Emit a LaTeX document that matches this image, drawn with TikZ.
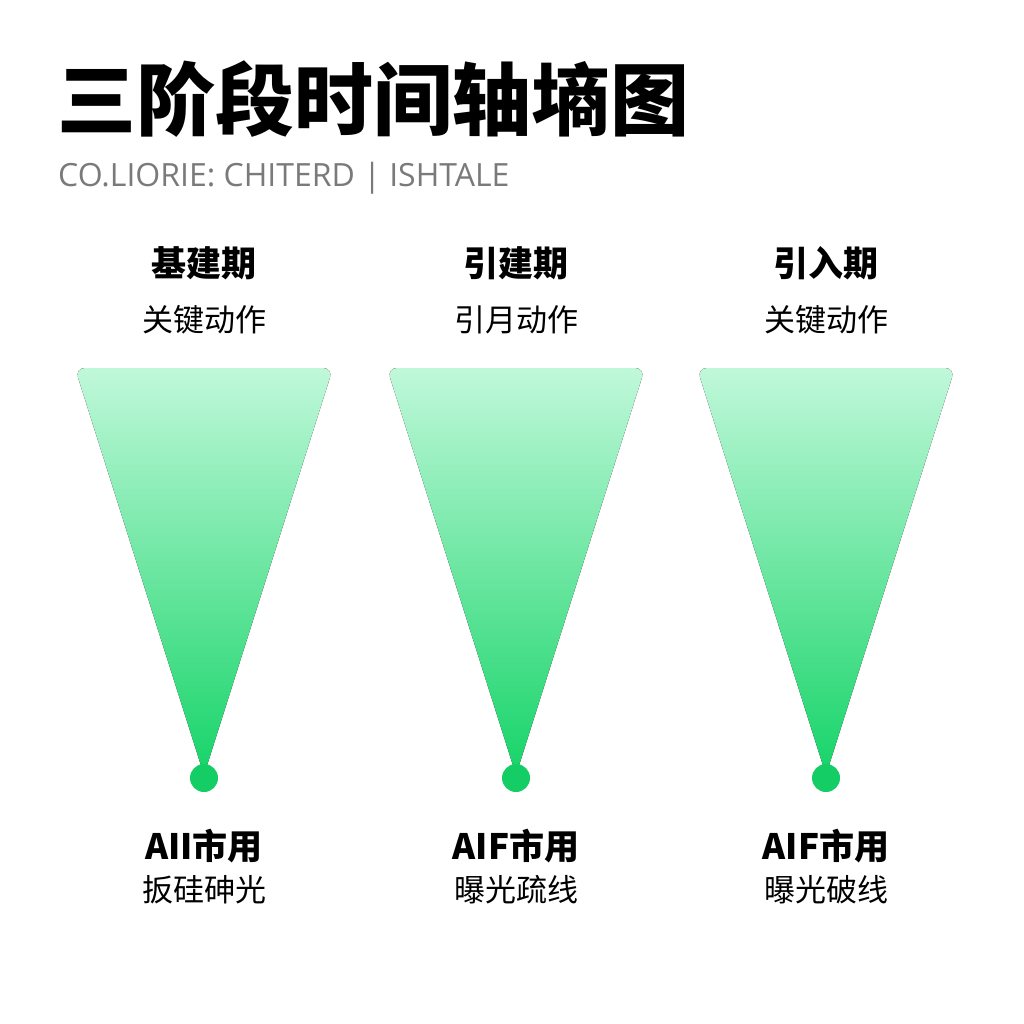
\documentclass[tikz,border=0pt]{standalone}
\usepackage{fontspec}
\newfontfamily\cjk{Noto Sans CJK SC}
\newfontfamily\subfont{Open Sans}
\definecolor{mint-top}{RGB}{192,248,218}
\definecolor{mint-bottom}{RGB}{22,212,104}
\definecolor{dot-green}{RGB}{20,205,100}
\definecolor{sub-gray}{RGB}{122,122,122}
\usetikzlibrary{positioning}

\begin{document}
\begin{tikzpicture}[x=1pt,y=-1pt,
    funnel/.style={top color=mint-top, bottom color=mint-bottom, draw=none, rounded corners=10pt},
    stagedot/.style={circle, fill=dot-green, minimum size=28pt, inner sep=0pt},
    stagehead/.style={font=\cjk\bfseries\fontsize{35}{35}\selectfont, anchor=base, inner sep=0pt},
    stagenote/.style={font=\cjk\fontsize{31}{31}\selectfont, anchor=base, inner sep=0pt}]
    \useasboundingbox[fill=white] (0,0) rectangle (1024,1024);

    \node[font=\cjk\bfseries\fontsize{79}{79}\selectfont, anchor=base west, inner sep=0pt] (title) at (57,130) {三阶段时间轴墒图};
    \node[font=\subfont\fontsize{32}{32}\selectfont, text=sub-gray, anchor=base west, inner sep=0pt] (subtitle) at (58,187) {CO.LIORIE: CHITERD | ISHTALE};

    % three stages
    \foreach \cx/\head/\note/\tag/\foot [count=\i] in {
        204/基建期/关键动作/AII市用/扳硅砷光,
        516/引建期/引月动作/AIF市用/曝光疏线,
        826/引入期/关键动作/AIF市用/曝光破线} {
        \fill[funnel] (\cx,775) -- (\cx-129,368) -- (\cx+129,368) -- cycle;
        \node[stagedot] (dot\i) at (\cx,778) {};
        \node[stagehead] (head\i) at (\cx,276) {\head};
        \node[stagenote] (note\i) at (\cx,331) {\note};
        \node[stagehead] (tag\i) at (\cx,859) {\tag};
        \node[stagenote] (foot\i) at (\cx,901) {\foot};
    }
\end{tikzpicture}
\end{document}
